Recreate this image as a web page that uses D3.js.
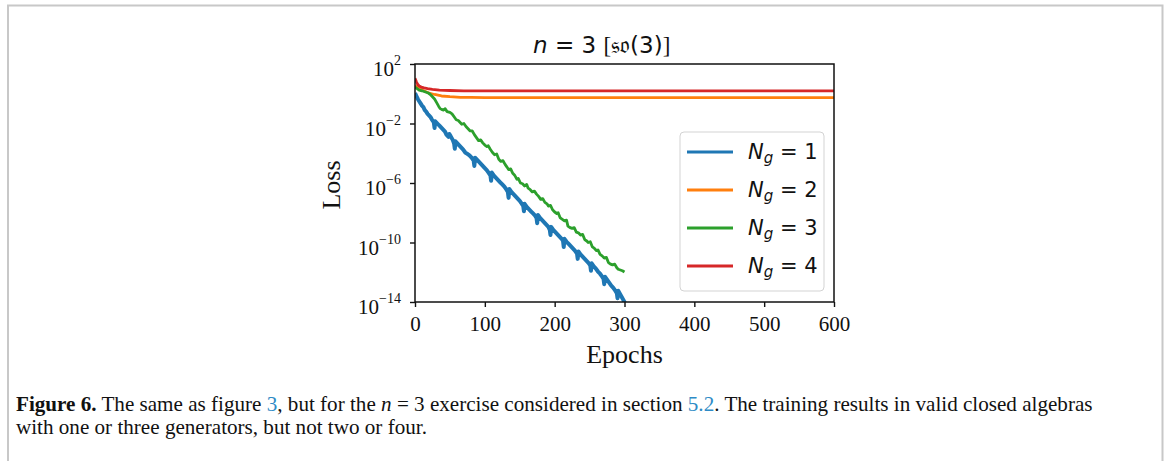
<!DOCTYPE html>
<html><head><meta charset="utf-8">
<script src="https://cdn.jsdelivr.net/npm/d3@7"></script>
<style>body{margin:0;background:#fff} svg{display:block}</style>
</head><body>
<svg id="c" width="1168" height="461"></svg>
<script>
// ---------- data (log10 of loss) ----------
const xTicks = [0, 100, 200, 300, 400, 500, 600];
const yTickExps = [2, -2, -6, -10, -14];
const seriesLabels = ["1", "2", "3", "4"];
const seriesColors = ["#1f77b4", "#ff7f0e", "#2ca02c", "#d62728"];

const blueEpochs = [0,2,4,6,8,10,12,14,16,18,20,22,24,26,27,28,29,31,33,35,37,40,43,45,48,49,51,54,56,57,58,60,63,66,69,72,75,78,81,84,85,86,88,91,94,97,100,103,106,108,109,110,113,116,119,122,125,128,131,133,134,135,138,141,144,147,150,153,155,156,157,160,163,166,169,172,174,175,176,179,182,185,188,191,193,194,195,198,201,204,207,210,212,213,214,217,220,223,226,229,232,233,234,237,240,243,246,249,251,252,253,256,259,262,265,268,270,271,272,275,278,281,284,287,289,290,291,294,297,300,302];
const blueLog = [0.05,-0.15,-0.35,-0.5,-0.65,-0.8,-0.9,-1.1,-1.2,-1.35,-1.45,-1.55,-1.72,-1.85,-1.95,-2.3,-1.85,-1.95,-2.05,-2.15,-2.25,-2.4,-2.55,-2.75,-2.9,-2.7,-2.85,-3.1,-3.35,-3.7,-3.2,-3.3,-3.45,-3.6,-3.75,-3.95,-4.05,-4.15,-4.3,-4.5,-4.85,-4.3,-4.4,-4.55,-4.7,-4.85,-5.0,-5.15,-5.35,-5.5,-5.85,-5.3,-5.5,-5.65,-5.8,-5.95,-6.1,-6.25,-6.45,-6.6,-7.0,-6.4,-6.6,-6.75,-6.9,-7.05,-7.2,-7.4,-7.55,-7.9,-7.4,-7.6,-7.75,-7.9,-8.05,-8.2,-8.35,-8.7,-8.15,-8.35,-8.5,-8.65,-8.8,-8.95,-9.15,-9.5,-8.95,-9.15,-9.3,-9.45,-9.6,-9.75,-9.9,-10.3,-9.75,-9.95,-10.1,-10.25,-10.4,-10.55,-10.75,-11.1,-10.6,-10.8,-10.95,-11.1,-11.25,-11.4,-11.55,-11.9,-11.4,-11.6,-11.75,-11.95,-12.1,-12.3,-12.45,-12.8,-12.3,-12.5,-12.7,-12.9,-13.05,-13.25,-13.4,-13.75,-13.25,-13.5,-13.75,-14.0,-14.3];

const orangeEpochs = [0,3,6,10,15,20,28,38,50,65,80,100,200,300,400,500,600];
const orangeLog = [0.55,0.45,0.35,0.25,0.15,0.05,-0.05,-0.15,-0.2,-0.24,-0.25,-0.26,-0.26,-0.26,-0.26,-0.26,-0.26];

const greenEpochs = [0,3,6,10,13,16,19,22,25,28,31,34,36,38,41,43,46,50,53,56,59,62,65,67,70,73,76,79,82,85,88,91,94,97,100,103,105,108,111,114,117,120,123,126,129,132,134,137,140,143,146,148,151,154,157,160,162,165,168,171,174,177,180,183,186,189,191,194,197,200,203,205,208,211,214,217,219,222,225,228,231,234,237,240,243,246,248,251,254,257,260,262,265,268,271,274,277,280,283,286,289,291,294,297,300];
const greenLog = [0.45,0.35,0.25,0.2,0.15,0.1,0.05,-0.05,-0.2,-0.35,-0.6,-0.85,-1.0,-1.05,-1.1,-1.0,-1.2,-1.25,-1.35,-1.55,-1.75,-1.8,-1.95,-2.05,-2.0,-2.2,-2.35,-2.5,-2.5,-2.75,-2.95,-3.15,-3.1,-3.3,-3.45,-3.55,-3.5,-3.75,-3.95,-4.1,-4.05,-4.4,-4.55,-4.5,-4.75,-4.95,-5.1,-5.05,-5.35,-5.5,-5.75,-5.7,-6.0,-6.05,-6.2,-6.1,-6.35,-6.45,-6.6,-6.55,-6.75,-6.9,-7.1,-7.05,-7.3,-7.4,-7.55,-7.5,-7.8,-7.95,-8.05,-8.0,-8.35,-8.45,-8.55,-8.5,-8.9,-9.0,-9.05,-9.0,-9.3,-9.35,-9.5,-9.45,-9.8,-9.9,-10.0,-9.95,-10.3,-10.4,-10.55,-10.5,-10.8,-10.9,-11.05,-11.0,-11.35,-11.45,-11.5,-11.45,-11.7,-11.8,-11.85,-11.9,-11.98];

const redEpochs = [0,2,4,6,9,13,18,25,35,50,70,100,200,300,400,500,600];
const redLog = [1.05,0.8,0.62,0.52,0.45,0.4,0.35,0.3,0.25,0.22,0.2,0.2,0.19,0.19,0.19,0.19,0.19];

// ---------- drawing ----------
const svg = d3.select("#c");
const L = 415, R = 834, T = 64, B = 302;
const x = d3.scaleLinear().domain([0, 600]).range([L, R]);
const y = d3.scaleLog().domain([1e-14, 1e2]).range([B, T]);

svg.append("path")
  .attr("d", `M8,475 L8,5.5 L1162.5,5.5 L1162.5,475`)
  .attr("fill", "none").attr("stroke", "#c8c8c8").attr("stroke-width", 2);

svg.append("defs").append("clipPath").attr("id", "clip")
  .append("rect").attr("x", L).attr("y", T).attr("width", R - L).attr("height", B - T);

const series = [
  {ep: blueEpochs, v: blueLog, w: 4},
  {ep: orangeEpochs, v: orangeLog, w: 2.8},
  {ep: greenEpochs, v: greenLog, w: 2.8},
  {ep: redEpochs, v: redLog, w: 2.8}
];
const line = d3.line().x(d => x(d[0])).y(d => y(Math.pow(10, d[1])));
const g = svg.append("g").attr("clip-path", "url(#clip)");
series.forEach((s, i) => {
  const pts = s.ep.map((e, k) => [e, s.v[k]]);
  g.append("path").datum(pts).attr("d", line)
    .attr("fill", "none").attr("stroke", seriesColors[i])
    .attr("stroke-width", s.w).attr("stroke-linejoin", "round").attr("stroke-linecap", "butt");
});

const serif = "Liberation Serif, Times New Roman, serif";
const xAxis = d3.axisBottom(x).tickValues(xTicks).tickSize(5).tickPadding(5).tickFormat(d3.format("d"));
const gx = svg.append("g").attr("transform", `translate(0,${B})`).call(xAxis);
gx.select(".domain").remove();
gx.selectAll(".tick line").attr("stroke", "#111").attr("stroke-width", 1.4);
gx.selectAll(".tick text").attr("font-family", serif)
  .attr("font-size", 21).attr("fill", "#111").attr("dy", "0.9em");

const yAxis = d3.axisLeft(y).tickValues(yTickExps.map(e => Math.pow(10, e))).tickSize(5).tickFormat("");
const gy = svg.append("g").attr("transform", `translate(${L},0)`).call(yAxis);
gy.select(".domain").remove();
gy.selectAll(".tick line").attr("stroke", "#111").attr("stroke-width", 1.4);
yTickExps.forEach(e => {
  const t = svg.append("text").attr("x", 401).attr("y", y(Math.pow(10, e)) + 12)
    .attr("text-anchor", "end").attr("font-family", serif)
    .attr("font-size", 21).attr("fill", "#111");
  t.append("tspan").text("10");
  t.append("tspan").attr("dy", -11).attr("font-size", 14).text(e < 0 ? "\u2212" + (-e) : String(e));
});

svg.append("rect").attr("x", L).attr("y", T).attr("width", R - L).attr("height", B - T)
  .attr("fill", "none").attr("stroke", "#111").attr("stroke-width", 1.5);

svg.append("text").attr("x", (L + R) / 2).attr("y", 363).attr("text-anchor", "middle")
  .attr("font-family", serif).attr("font-size", 26).attr("fill", "#111").text("Epochs");
svg.append("text").attr("transform", `translate(340,${(T + B) / 2 + 2}) rotate(-90)`).attr("text-anchor", "middle")
  .attr("font-family", serif).attr("font-size", 26).attr("fill", "#111").text("Loss");

const title = svg.append("text").attr("x", 533).attr("y", 53)
  .attr("font-family", "DejaVu Sans, sans-serif").attr("font-size", 23).attr("fill", "#111");
title.append("tspan").attr("font-style", "italic").text("n");
title.append("tspan").text(" = 3 ");
title.append("tspan").attr("font-family", serif).text("[");
title.append("tspan").attr("font-family", "DejaVu Serif, DejaVu Sans, serif").text("\u{1D530}\u{1D52C}");
title.append("tspan").text("(3)");
title.append("tspan").attr("font-family", serif).text("]");

const lg = svg.append("g");
lg.append("rect").attr("x", 680).attr("y", 132).attr("width", 144).attr("height", 159).attr("rx", 4)
  .attr("fill", "#fff").attr("fill-opacity", 0.85).attr("stroke", "#d3d3d3").attr("stroke-width", 1);
seriesLabels.forEach((lab, i) => {
  const yy = 152 + i * 38;
  lg.append("line").attr("x1", 687).attr("x2", 733).attr("y1", yy).attr("y2", yy)
    .attr("stroke", seriesColors[i]).attr("stroke-width", 2.8);
  const t = lg.append("text").attr("x", 748).attr("y", yy + 7)
    .attr("font-family", "DejaVu Sans, sans-serif").attr("font-size", 21).attr("fill", "#111");
  t.append("tspan").attr("font-style", "italic").text("N");
  t.append("tspan").attr("font-style", "italic").attr("font-size", 15).attr("dy", 4).text("g");
  t.append("tspan").attr("dy", -4).text(" = " + lab);
});

const c1 = svg.append("text").attr("x", 16).attr("y", 411).attr("font-family", serif).attr("font-size", 18).attr("fill", "#111");
c1.append("tspan").attr("font-weight", "bold").text("Figure 6.");
c1.append("tspan").text(" The same as figure ");
c1.append("tspan").attr("fill", "#2e8bc6").text("3");
c1.append("tspan").text(", but for the ");
c1.append("tspan").attr("font-style", "italic").text("n");
c1.append("tspan").text(" = 3 exercise considered in section ");
c1.append("tspan").attr("fill", "#2e8bc6").text("5.2");
c1.append("tspan").text(". The training results in valid closed algebras");
const c2 = svg.append("text").attr("x", 16).attr("y", 434).attr("font-family", serif).attr("font-size", 18).attr("fill", "#111")
  .text("with one or three generators, but not two or four.");
const w1 = c1.node().getComputedTextLength();
const fs = 18 * 1077 / w1;
c1.attr("font-size", fs);
c2.attr("font-size", fs);
</script>
</body></html>
